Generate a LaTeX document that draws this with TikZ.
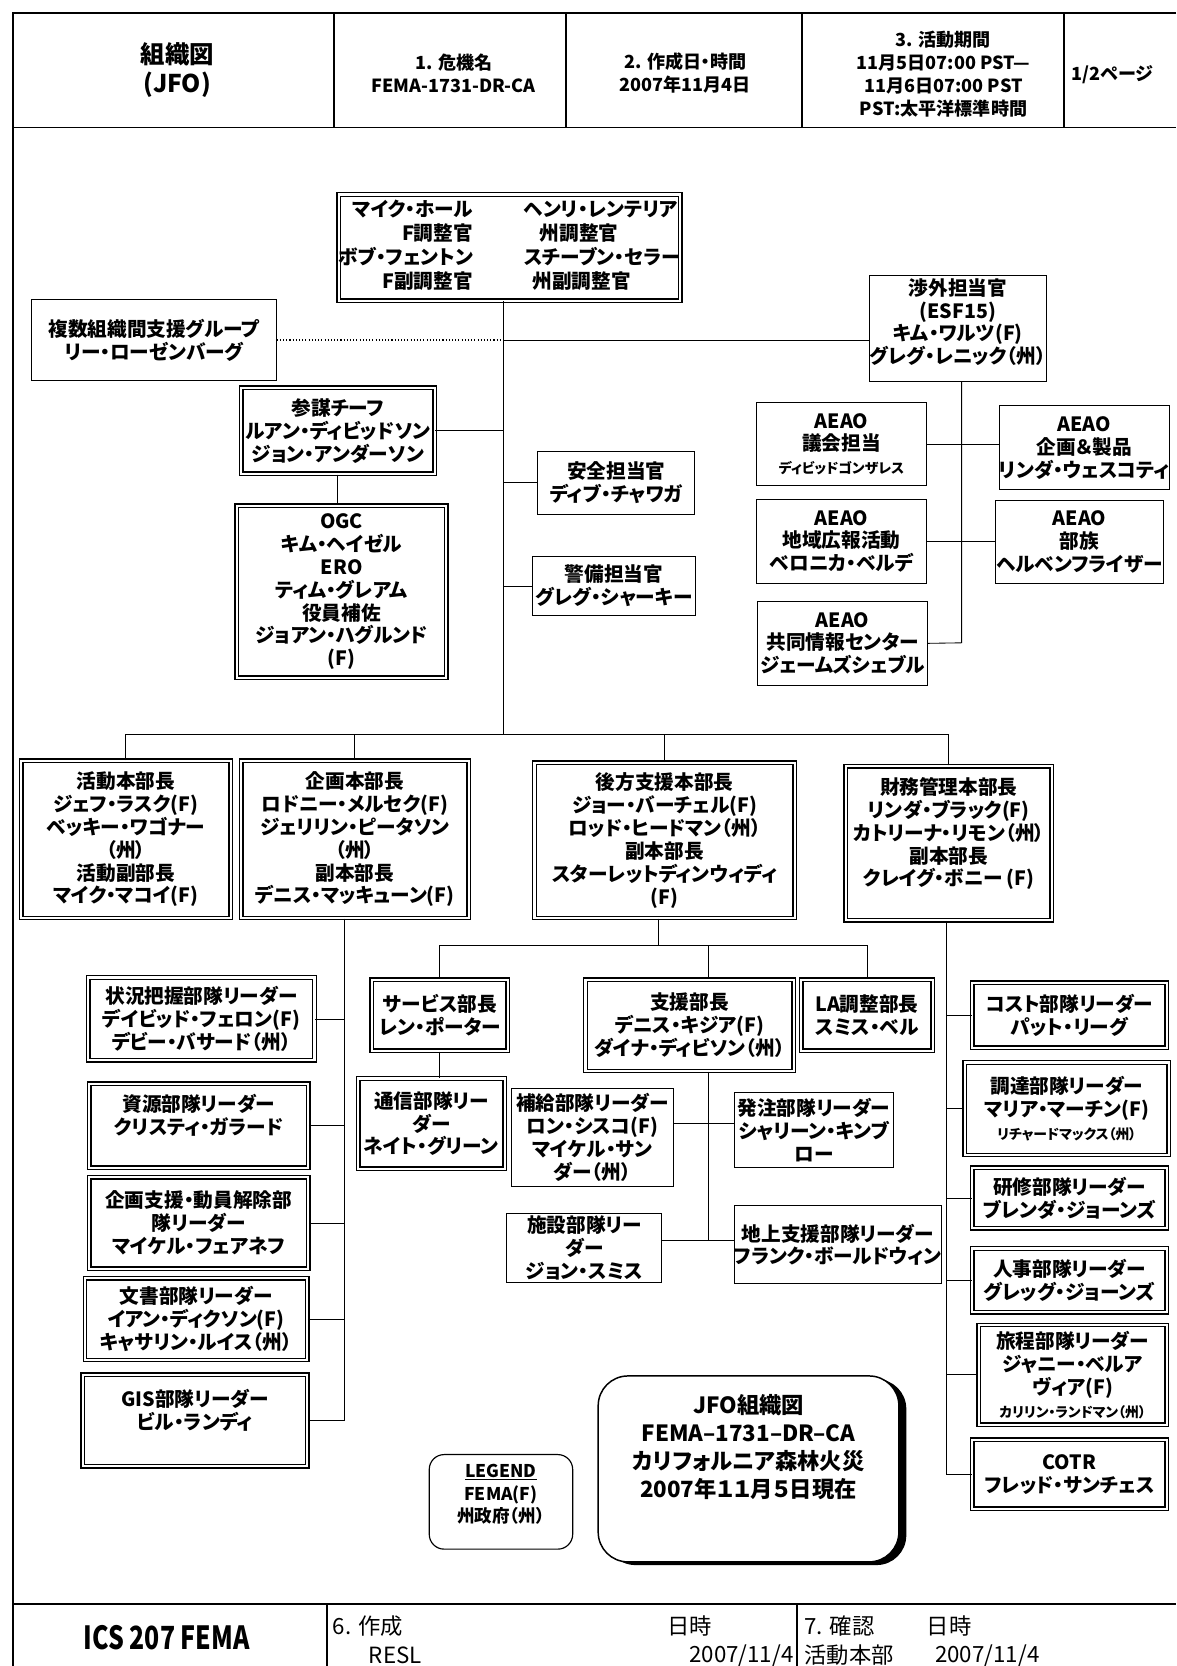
\documentclass[tikz,border=0pt]{standalone}
\usepackage{fontspec}
\setmainfont{Noto Sans CJK JP}[RawFeature=+palt]
\newfontfamily\narrowfont{Noto Sans CJK JP}[FakeStretch=0.78]
\usetikzlibrary{shadows}
\newcommand\smtxt[1]{{\fontsize{13}{15}\selectfont #1}}

\begin{document}
\begin{tikzpicture}[x=1pt,y=-1pt,
sbox/.style={draw,line width=.9pt,align=center,inner sep=0pt,font=\bfseries\fontsize{18.5}{21.5}\selectfont},
dbox/.style={sbox,double,line width=1.3pt,double distance=2pt},
hd/.style={align=center,inner sep=0pt,font=\bfseries\fontsize{17}{21.5}\selectfont},
ft/.style={inner sep=0pt,font=\fontsize{21}{25}\selectfont},
ln/.style={line width=.8pt},
frm/.style={line width=1.8pt}]
\useasboundingbox (0,0) rectangle (1107,1568);
\draw[frm] (1107,12)--(12,12)--(12,1568);
\draw[frm] (12,120)--(1107,120);\draw[frm] (12,1510)--(1107,1510);
\draw[frm] (314,12)--(314,120);\draw[frm] (533,12)--(533,120);\draw[frm] (755,12)--(755,120);\draw[frm] (1001,12)--(1001,120);
\draw[frm] (308,1510)--(308,1568);\draw[frm] (750,1510)--(750,1568);
\node[hd,font=\bfseries\fontsize{23}{28}\selectfont] (title) at (167,66) {組織図\\(JFO)};
\node[hd] (incident) at (427,69) {1. 危機名\\FEMA-1731-DR-CA};
\node[hd] (prepdate) at (645,69) {2. 作成日・時間\\2007年11月4日};
\node[hd] (period) at (888,70) {3. 活動期間\\11月5日07:00 PST—\\11月6日07:00 PST\\PST:太平洋標準時間};
\node[hd] (page) at (1047,70) {1/2ページ};
\node[dbox,minimum width=317,minimum height=100] (fco) at (479.5,233) {\begin{tabular}{@{}r@{\hspace{48pt}}l@{}}マイク・ホール&ヘンリ・レンテリア\\F調整官&\hspace{15pt}州調整官\\ボブ・フェントン&スチーブン・セラー\\F副調整官&\hspace{8pt}州副調整官\end{tabular}};
\node[sbox,minimum width=230,minimum height=76] (mag) at (145,320) {複数組織間支援グループ\\リー・ローゼンバーグ};
\node[sbox,minimum width=165,minimum height=100] (lno) at (901.5,309) {渉外担当官\\(ESF15)\\キム・ワルツ(F)\\グレグ・レニック（州）\\[-8pt]\mbox{}};
\node[dbox,minimum width=182,minimum height=81] (cos) at (318,405.5) {参謀チーフ\\ルアン・ディビッドソン\\ジョン・アンダーソン};
\node[dbox,minimum width=197,minimum height=162] (ogc) at (321.5,557) {OGC\\キム・ヘイゼル\\ERO\\ティム・グレアム\\役員補佐\\ジョアン・ハグルンド\\(F)};
\node[sbox,minimum width=148,minimum height=59] (sof) at (580,454.5) {安全担当官\\ディブ・チャワガ};
\node[sbox,minimum width=154,minimum height=55] (sec) at (578,551.5) {警備担当官\\グレグ・シャーキー};
\node[sbox,minimum width=160,minimum height=78] (cong) at (792,418) {AEAO\\議会担当\\\smtxt{ディビッドゴンザレス}};
\node[sbox,minimum width=159,minimum height=79] (plng) at (1020.5,421.5) {AEAO\\企画＆製品\\リンダ・ウェスコティ};
\node[sbox,minimum width=160,minimum height=79] (comr) at (792,509.5) {AEAO\\地域広報活動\\ベロニカ・ベルデ};
\node[sbox,minimum width=158,minimum height=78] (trib) at (1016,510) {AEAO\\部族\\ヘルベンフライザー};
\node[sbox,minimum width=160,minimum height=79] (jic) at (793,605.5) {AEAO\\共同情報センター\\ジェームズシェブル};
\coordinate (spine) at (474,691);\coordinate (j1) at (474,320);\coordinate (lv) at (905,605);
\draw[ln] (fco.south -| spine)--(spine);
\draw[line width=1pt,dotted] (mag.east)--(j1);\draw[ln] (j1)--(j1 -| lno.west);
\draw[ln] (cos.east)--(cos.east -| spine);\draw[ln] (cos.south)--(cos.south |- ogc.north);
\draw[ln] (sof.west)--(sof.west -| spine);\draw[ln] (sec.west)--(sec.west -| spine);
\draw[ln] (lno.south -| lv)--(lv)--(jic.east);
\draw[ln] (cong.east)--(cong.east -| plng.west);\draw[ln] (comr.east)--(comr.east -| trib.west);
\node[dbox,minimum width=197,minimum height=148] (ops) at (118.5,790) {活動本部長\\ジェフ・ラスク(F)\\ベッキー・ワゴナー\\（州）\\活動副部長\\マイク・マコイ(F)};
\node[dbox,minimum width=214,minimum height=148] (plan) at (334,790) {企画本部長\\ロドニー・メルセク(F)\\ジェリリン・ピータソン\\（州）\\副本部長\\デニス・マッキューン(F)};
\node[dbox,minimum width=245,minimum height=146] (logs) at (625.5,791) {後方支援本部長\\ジョー・バーチェル(F)\\ロッド・ヒードマン（州）\\副本部長\\スターレットディンウィディ\\(F)};
\node[dbox,minimum width=194,minimum height=145] (fin) at (893,793.5) {財務管理本部長\\リンダ・ブラック(F)\\カトリーナ・リモン（州）\\副本部長\\クレイグ・ボニー (F)\\\mbox{}};
\draw[ln] (ops.north |- spine)--(fin.north |- spine);
\draw[ln] (ops.north)--(ops.north |- spine);\draw[ln] (plan.north)--(plan.north |- spine);
\draw[ln] (logs.north)--(logs.north |- spine);\draw[ln] (fin.north)--(fin.north |- spine);
\node[dbox,minimum width=213,minimum height=78] (sit) at (189.5,959) {状況把握部隊リーダー\\デイビッド・フェロン(F)\\デビー・バサード（州）};
\node[dbox,minimum width=206,minimum height=79] (res) at (187,1059.5) {資源部隊リーダー\\クリスティ・ガラード\\\mbox{}};
\node[dbox,minimum width=206,minimum height=86] (dmob) at (187,1151) {企画支援・動員解除部\\隊リーダー\\マイケル・フェアネフ};
\node[dbox,minimum width=209,minimum height=77] (doc) at (184.5,1241.5) {文書部隊リーダー\\イアン・ディクソン(F)\\キャサリン・ルイス（州）};
\node[dbox,minimum width=211,minimum height=86] (gis) at (183.5,1337) {GIS部隊リーダー\\ビル・ランディ\\\mbox{}};
\coordinate (pv) at (324,1337);
\draw[ln] (plan.south -| pv)--(pv);
\draw[ln] (sit.east)--(sit.east -| pv);\draw[ln] (res.east)--(res.east -| pv);\draw[ln] (dmob.east)--(dmob.east -| pv);
\draw[ln] (doc.east)--(doc.east -| pv);\draw[ln] (gis.east)--(gis.east -| pv);
\node[dbox,minimum width=128,minimum height=67] (svc) at (414,955.5) {サービス部長\\レン・ポーター};
\node[dbox,minimum width=138,minimum height=85] (comm) at (406,1057.5) {通信部隊リー\\ダー\\ネイト・グリーン};
\node[dbox,minimum width=196,minimum height=86] (sup) at (649,965) {支援部長\\デニス・キジア(F)\\ダイナ・ディビソン（州）};
\node[dbox,minimum width=124,minimum height=67] (lac) at (816,955.5) {LA調整部長\\スミス・ベル};
\node[sbox,minimum width=153,minimum height=93] (supl) at (557.5,1070.5) {補給部隊リーダー\\ロン・シスコ(F)\\マイケル・サン\\ダー（州）};
\node[sbox,minimum width=150,minimum height=71] (ordr) at (766,1063.5) {発注部隊リーダー\\シャリーン・キンブ\\ロー};
\node[sbox,minimum width=146,minimum height=65] (fac) at (550,1174.5) {施設部隊リー\\ダー\\ジョン・スミス};
\node[sbox,minimum width=191,minimum height=73] (gsu) at (788.5,1171.5) {地上支援部隊リーダー\\フランク・ボールドウィン};
\coordinate (lb) at (620,890);\coordinate (sv) at (667,1167);\coordinate (sv1) at (667,1057);
\draw[ln] (logs.south -| lb)--(lb);
\draw[ln] (svc.north) |- (lb) -| (lac.north);
\draw[ln] (sup.north -| sv)--(sv |- lb);\draw[ln] (sup.south -| sv)--(sv);
\draw[ln] (svc.south)--(svc.south |- comm.north);
\draw[ln] (supl.east |- sv1)--(ordr.west |- sv1);\draw[ln] (fac.east |- sv)--(gsu.west |- sv);
\node[dbox,minimum width=183,minimum height=61] (cost) at (1006.5,955.5) {コスト部隊リーダー\\パット・リーグ};
\node[dbox,minimum width=192,minimum height=87] (proc) at (1004,1043.5) {調達部隊リーダー\\マリア・マーチン(F)\\\smtxt{リチャードマックス（州）}};
\node[dbox,minimum width=183,minimum height=57] (trn) at (1006.5,1127.5) {研修部隊リーダー\\ブレンダ・ジョーンズ};
\node[dbox,minimum width=183,minimum height=60] (hr) at (1006.5,1205) {人事部隊リーダー\\グレッグ・ジョーンズ};
\node[dbox,minimum width=177,minimum height=94] (trv) at (1009.5,1294) {旅程部隊リーダー\\ジャニー・ベルア\\ヴィア(F)\\\smtxt{カリリン・ランドマン（州）}};
\node[dbox,minimum width=183,minimum height=65] (cotr) at (1006.5,1387.5) {COTR\\フレッド・サンチェス};
\coordinate (fv) at (891,1388);
\draw[ln] (fin.south -| fv)--(fv);
\draw[ln] (cost.west)--(cost.west -| fv);\draw[ln] (proc.west)--(proc.west -| fv);\draw[ln] (trn.west)--(trn.west -| fv);
\draw[ln] (hr.west)--(hr.west -| fv);\draw[ln] (trv.west)--(trv.west -| fv);\draw[ln] (cotr.west)--(cotr.west -| fv);
\node[sbox,rounded corners=14pt,line width=1.1pt,minimum width=135,minimum height=89,font=\bfseries\fontsize{16.5}{21}\selectfont] (lgd) at (471.5,1413.5) {\underline{LEGEND}\\FEMA(F)\\州政府（州）\\[-5pt]\mbox{}};
\node[sbox,rounded corners=28pt,line width=1.4pt,fill=white,general shadow={fill=black,shadow xshift=7pt,shadow yshift=-3pt},minimum width=283,minimum height=175,font=\bfseries\fontsize{21}{26.5}\selectfont] (ttl) at (704.5,1382.5) {JFO組織図\\FEMA--1731--DR--CA\\カリフォルニア森林火災\\2007年１１月５日現在\\[17pt]\mbox{}};
\node[ft,font=\narrowfont\bfseries\fontsize{30}{34}\selectfont] (form) at (157,1541) {ICS 207 FEMA};
\node[ft,anchor=west] (prep) at (313,1530) {6. 作成};
\node[ft,anchor=west] (resl) at (347,1558) {RESL};
\node[ft,anchor=west] (prept) at (628,1530) {日時};
\node[ft,anchor=east] (prepd) at (747,1558) {2007/11/4};
\node[ft,anchor=west] (appr) at (757,1530) {7. 確認};
\node[ft,anchor=west] (apprt) at (872,1530) {日時};
\node[ft,anchor=west] (apprb) at (757,1558) {活動本部};
\node[ft,anchor=west] (apprd) at (880,1558) {2007/11/4};
\end{tikzpicture}
\end{document}
